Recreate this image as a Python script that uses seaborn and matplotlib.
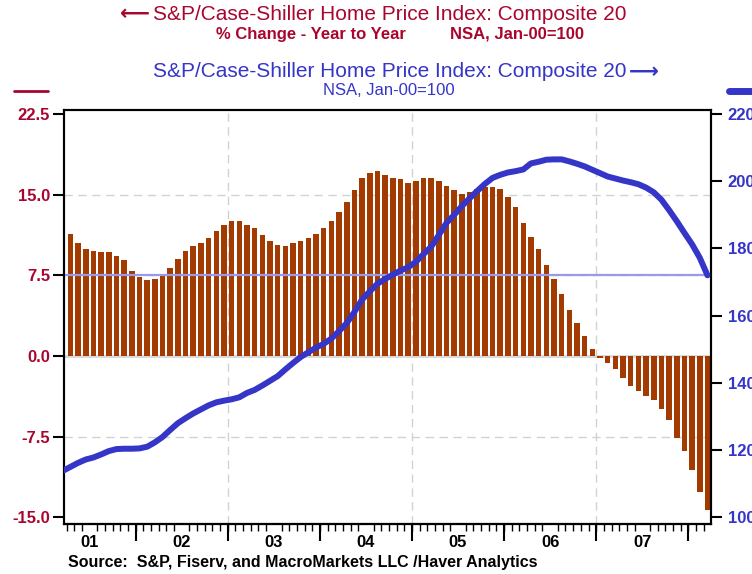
import numpy as np
import pandas as pd
import matplotlib
matplotlib.use("Agg")
import matplotlib.pyplot as plt
from matplotlib.lines import Line2D
import seaborn as sns

# --------------------------
# Data
# --------------------------

# % change year to year, monthly from Apr 2001
yoy_start = "2001-04"
yoy = [
    11.35, 10.5, 9.95, 9.77, 9.67, 9.67, 9.3, 8.93, 7.9, 7.35, 7.07, 7.16,
    7.44, 8.19, 9.02, 9.77, 10.23, 10.5, 10.98, 11.63, 12.19, 12.56, 12.56, 12.19,
    11.91, 11.26, 10.7, 10.33, 10.23, 10.5, 10.7, 10.98, 11.35, 11.91, 12.56, 13.42,
    14.36, 15.44, 16.56, 17.02, 17.21, 16.84, 16.56, 16.47, 16.12, 16.28, 16.56, 16.56,
    16.28, 15.81, 15.44, 15.07, 15.26, 15.53, 15.72, 15.72, 15.53, 14.79, 13.86, 12.37,
    11.07, 9.97, 8.47, 7.16, 5.77, 4.28, 3.1, 1.86, 0.65, -0.15, -0.62, -1.18,
    -2.02, -2.76, -3.23, -3.69, -4.06, -4.9, -5.92, -7.6, -8.81, -10.57, -12.62, -14.3,
]

# index level (NSA, Jan-00=100), monthly from Mar 2001
hpi_start = "2001-03"
hpi = [
    113.8, 115.0, 116.2, 117.2, 117.8, 118.7, 119.7, 120.3, 120.4, 120.4, 120.5, 121.0,
    122.3, 123.9, 126.0, 128.0, 129.5, 130.9, 132.1, 133.3, 134.2, 134.7, 135.1, 135.7,
    137.0, 137.9, 139.2, 140.6, 142.0, 144.0, 145.9, 147.7, 149.1, 150.5, 151.6, 153.2,
    155.4, 157.8, 161.1, 164.8, 167.2, 169.5, 170.9, 172.2, 173.4, 174.4, 176.0, 178.3,
    180.5, 184.0, 187.6, 190.0, 192.6, 194.9, 197.1, 199.2, 201.0, 201.9, 202.6, 203.0,
    203.5, 205.3, 205.8, 206.4, 206.5, 206.5, 205.9, 205.2, 204.4, 203.4, 202.4, 201.4,
    200.8, 200.2, 199.7, 199.1, 198.1, 196.7, 194.5, 191.4, 188.1, 184.6, 181.2, 177.2,
    172.0,
]

years = [2001, 2002, 2003, 2004, 2005, 2006, 2007]
year_labels = ["01", "02", "03", "04", "05", "06", "07"]
left_ticks = [-15.0, -7.5, 0.0, 7.5, 15.0, 22.5]
right_ticks = [100, 120, 140, 160, 180, 200, 220]

RED = "#A8062E"
BLUE = "#3535C8"
BAR = "#A33A00"
GRID = "#d2d2d2"


def month_pos(start, n):
    d = pd.date_range(start, periods=n, freq="MS")
    return np.asarray((d.year - 2001) * 12 + d.month - 1 + 0.5, dtype=float)


xb = month_pos(yoy_start, len(yoy))
xl = month_pos(hpi_start, len(hpi))

# --------------------------
# Figure
# --------------------------

sns.set_theme(style="white")
plt.rcParams["font.family"] = ["Liberation Sans", "DejaVu Sans"]

fig = plt.figure(figsize=(7.52, 5.74), dpi=100)
ax = fig.add_axes([0.0851, 0.0871, 0.8604, 0.7213])

# grid
for v in [15.0, 7.5, -7.5]:
    ax.axhline(v, color=GRID, lw=1, ls=(0, (6, 4)), zorder=0)
ax.axhline(0, color="#d8d8d8", lw=2, zorder=0)
for yr in [2003, 2005, 2007]:
    ax.axvline((yr - 2001) * 12, color=GRID, lw=1, ls=(0, (6, 4)), zorder=0)

sns.barplot(x=xb, y=yoy, native_scale=True, color=BAR, saturation=1,
            width=0.72, errorbar=None, linewidth=0, ax=ax, zorder=2)

ax.set_xlim(2.66, 86.96)
ax.set_ylim(-15.63, 22.88)

ax2 = ax.twinx()
ax2.axhline(hpi[-1], color="#9a9ae8", lw=1.6, zorder=1)
sns.lineplot(x=xl, y=hpi, color=BLUE, linewidth=4.3, ax=ax2, zorder=3)
ax2.set_ylim(98.0, 221.2)
ax2.set_xlim(2.66, 86.96)

# y ticks
ax.set_yticks(left_ticks)
ax.set_yticklabels([f"{t:.1f}" for t in left_ticks])
ax.tick_params(axis="y", which="major", left=True, length=8, width=1.5,
               color="black", labelcolor=RED, labelsize=12, pad=2)
for lab in ax.get_yticklabels():
    lab.set_fontweight("bold")

ax2.set_yticks(right_ticks)
ax2.set_yticklabels([str(t) for t in right_ticks])
ax2.tick_params(axis="y", which="major", right=True, length=8, width=1.5,
                color="black", labelcolor=BLUE, labelsize=12, pad=4)
for lab in ax2.get_yticklabels():
    lab.set_fontweight("bold")

# x ticks
mid = [(y - 2001) * 12 + 6 for y in years]
ax.set_xticks(mid)
ax.set_xticklabels(year_labels)
ax.tick_params(axis="x", which="major", bottom=True, length=0, pad=8,
               labelsize=12, labelcolor="black")
for lab in ax.get_xticklabels():
    lab.set_fontweight("bold")
ax.set_xticks(np.arange(3, 87), minor=True)
ax.tick_params(axis="x", which="minor", bottom=True, length=5, width=1, color="black")

sec = ax.secondary_xaxis("bottom")
sec.set_xticks([(y - 2001) * 12 for y in years[1:]] + [84])
sec.set_xticklabels([])
sec.tick_params(length=12, width=1.5, color="black")
sec.spines["bottom"].set_linewidth(1.5)

for a in (ax, ax2):
    for s in a.spines.values():
        s.set_color("black")
        s.set_linewidth(1.5)
ax.set_xlabel("")
ax.set_ylabel("")
ax2.set_ylabel("")

# --------------------------
# Titles
# --------------------------

def ftext(x, y, s, **kw):
    fig.text(x / 752, 1 - y / 574, s, ha="center", va="center", **kw)

ftext(389.5, 14.5, "S&P/Case-Shiller Home Price Index: Composite 20",
      color=RED, fontsize=15)
ftext(135, 14.5, "\u27f5", color=RED, fontsize=15, fontweight="bold",
      family=["DejaVu Sans"])
ftext(311, 34, "% Change - Year to Year", color=RED, fontsize=12, fontweight="bold")
ftext(517, 34, "NSA, Jan-00=100", color=RED, fontsize=12, fontweight="bold")
ftext(390, 71.7, "S&P/Case-Shiller Home Price Index: Composite 20",
      color=BLUE, fontsize=15)
ftext(644, 71.7, "\u27f6", color=BLUE, fontsize=15, fontweight="bold",
      family=["DejaVu Sans"])
ftext(389, 90.8, "NSA, Jan-00=100", color=BLUE, fontsize=12)

fig.add_artist(Line2D([14 / 752, 48 / 752], [1 - 91 / 574] * 2, color=RED, lw=2))
fig.add_artist(Line2D([729 / 752, 760 / 752], [1 - 91 / 574] * 2, color=BLUE, lw=5,
                      solid_capstyle="round"))

fig.text(68 / 752, 1 - 562.5 / 574,
         "Source:  S&P, Fiserv, and MacroMarkets LLC /Haver Analytics",
         ha="left", va="center", fontsize=11.5, fontweight="bold", color="black")

fig.savefig("out.png", dpi=100)
